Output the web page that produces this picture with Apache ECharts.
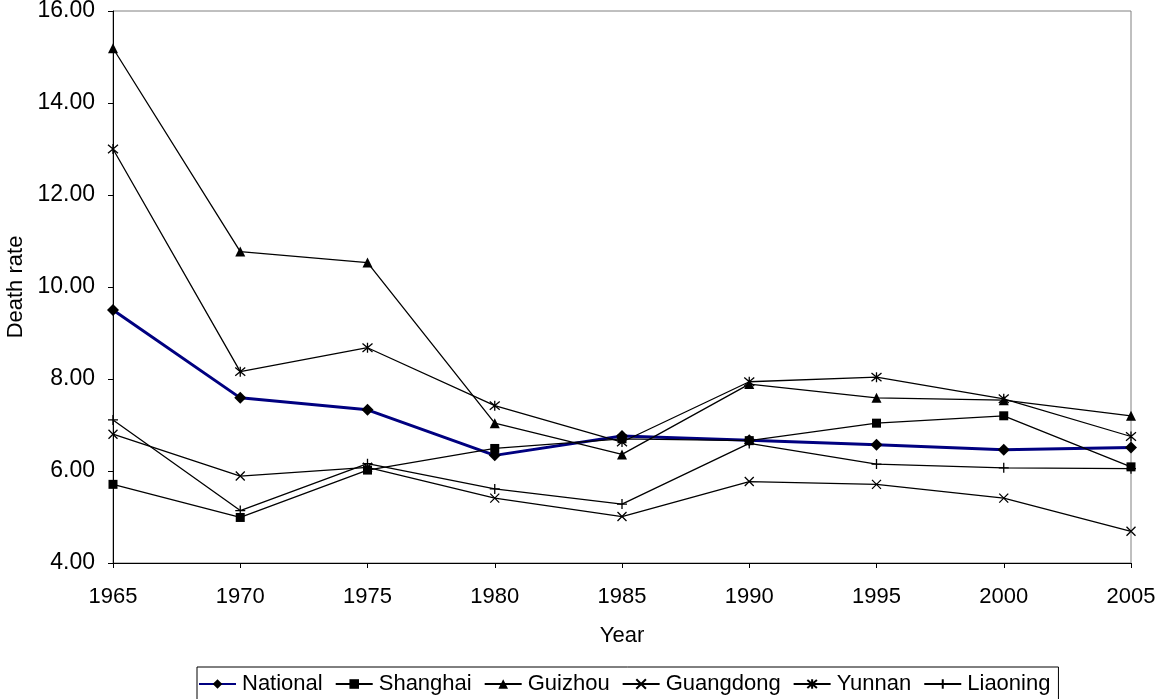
<!DOCTYPE html>
<html>
<head>
<meta charset="utf-8">
<title>Death rate by province, 1965–2005</title>
<script src="https://cdn.jsdelivr.net/npm/echarts@6/dist/echarts.min.js"></script>
<style>
  html, body { margin: 0; padding: 0; background: #fff; }
  #chart { width: 1158px; height: 699px; }
</style>
</head>
<body>
<div id="chart"></div>
<script>
// Survey years (x axis categories)
const years = ['1965', '1970', '1975', '1980', '1985', '1990', '1995', '2000', '2005'];

// Death rate per region
const national  = [9.50, 7.59, 7.33, 6.34, 6.76, 6.67, 6.57, 6.46, 6.51];
const shanghai  = [5.71, 4.99, 6.02, 6.49, 6.70, 6.66, 7.04, 7.20, 6.09];
const guizhou   = [15.19, 10.77, 10.53, 7.04, 6.36, 7.89, 7.59, 7.54, 7.20];
const guangdong = [6.80, 5.89, 6.08, 5.41, 5.01, 5.77, 5.71, 5.41, 4.69];
const yunnan    = [13.00, 8.16, 8.68, 7.42, 6.63, 7.94, 8.04, 7.57, 6.75];
const liaoning  = [7.11, 5.14, 6.16, 5.61, 5.28, 6.60, 6.15, 6.07, 6.05];

// Y axis range
const yMin = 4, yMax = 16, yStep = 2;

const FONT = 'Liberation Sans, Arial, sans-serif';

// Stroke-only marker shapes
const SYM_CROSS = 'path://M0,0L10,10M10,0L0,10';
const SYM_STAR  = 'path://M0,0L10,10M10,0L0,10M5,-1L5,11';
const SYM_PLUS  = 'path://M5,0L5,10M0,5L10,5';

function blackSeries(name, data, symbol, size, stroked) {
  return {
    name: name,
    type: 'line',
    data: data,
    symbol: symbol,
    symbolSize: size,
    showAllSymbol: true,
    lineStyle: { color: '#000', width: 1.3 },
    itemStyle: stroked
      ? { color: '#000', borderColor: '#000', borderWidth: 1.3 }
      : { color: '#000', borderWidth: 0 },
    emphasis: { disabled: true },
    animation: false
  };
}

const chart = echarts.init(document.getElementById('chart'), null, { renderer: 'canvas' });

chart.setOption({
  backgroundColor: '#fff',
  animation: false,
  textStyle: { fontFamily: FONT, color: '#000' },
  grid: {
    left: 113, top: 11, right: 27, bottom: 136,
    outerBoundsMode: 'none',
    containLabel: false,
    show: true, borderColor: '#808080', borderWidth: 1, backgroundColor: 'transparent'
  },
  legend: {
    left: 197, top: 667,
    orient: 'horizontal',
    itemWidth: 37, itemHeight: 12, itemGap: 12,
    padding: [6, 8, 10, 1],
    borderColor: '#000', borderWidth: 1, borderRadius: 0,
    textStyle: { fontFamily: FONT, fontSize: 22, color: '#000', padding: [0, 0, 0, 1] },
    data: ['National', 'Shanghai', 'Guizhou', 'Guangdong', 'Yunnan', 'Liaoning']
  },
  xAxis: {
    type: 'category',
    data: years,
    boundaryGap: false,
    name: 'Year',
    nameLocation: 'middle',
    nameGap: 62,
    nameTextStyle: { fontFamily: FONT, fontSize: 22, color: '#000' },
    axisLine: { lineStyle: { color: '#000', width: 1 } },
    axisTick: { show: true, length: 5, inside: false, lineStyle: { color: '#000' } },
    axisLabel: { fontFamily: FONT, fontSize: 22, color: '#000', margin: 23 },
    splitLine: { show: false }
  },
  yAxis: {
    type: 'value',
    min: yMin, max: yMax, interval: yStep,
    name: 'Death rate',
    nameLocation: 'middle',
    nameRotate: 90,
    nameGap: 85,
    nameTextStyle: { fontFamily: FONT, fontSize: 22, color: '#000' },
    axisLine: { show: true, lineStyle: { color: '#000', width: 1 } },
    axisTick: { show: true, length: 5, lineStyle: { color: '#000' } },
    axisLabel: {
      fontFamily: FONT, fontSize: 23, color: '#000', margin: 18,
      formatter: v => v.toFixed(2)
    },
    splitLine: { show: false }
  },
  series: [
    {
      name: 'National',
      type: 'line',
      data: national,
      symbol: 'diamond',
      symbolSize: 12,
      showAllSymbol: true,
      lineStyle: { color: '#000080', width: 3 },
      itemStyle: { color: '#000', borderWidth: 0 },
      emphasis: { disabled: true },
      animation: false
    },
    blackSeries('Shanghai', shanghai, 'rect', 9, false),
    blackSeries('Guizhou', guizhou, 'triangle', 10, false),
    blackSeries('Guangdong', guangdong, SYM_CROSS, 9, true),
    blackSeries('Yunnan', yunnan, SYM_STAR, 10, true),
    blackSeries('Liaoning', liaoning, SYM_PLUS, 10, true)
  ]
});
</script>
</body>
</html>
